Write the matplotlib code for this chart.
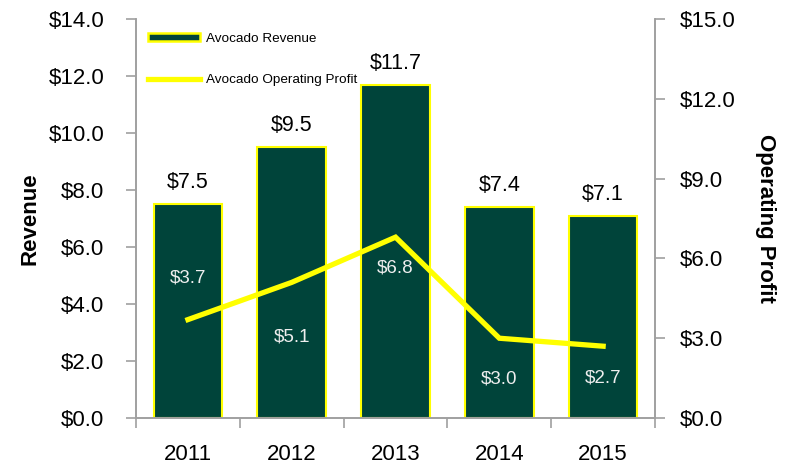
import matplotlib
matplotlib.use('Agg')
import matplotlib.pyplot as plt
from matplotlib.patches import Patch
from matplotlib.lines import Line2D

plt.rcParams['font.family'] = ['Liberation Sans', 'DejaVu Sans']

# ---- donnees ----
annees = ['2011', '2012', '2013', '2014', '2015']
revenue = [7.5, 9.5, 11.7, 7.4, 7.1]
profit = [3.7, 5.1, 6.8, 3.0, 2.7]
# decalage vertical (points) des etiquettes de profit
profit_offsets = [30, -39, -22, -29, -23]

VERT = '#00443a'
JAUNE = '#ffff00'
GRIS = '#a0a0a0'

fig = plt.figure(figsize=(7.89, 4.66), dpi=100)
ax = fig.add_axes([0.1724, 0.103, 0.6578, 0.856])
ax2 = ax.twinx()

x = list(range(len(annees)))

# barres revenue
bars = ax.bar(x, revenue, width=0.66, color=VERT, edgecolor=JAUNE, linewidth=1.5, zorder=2)
for xi, v in zip(x, revenue):
    ax.annotate(f"${v:.1f}", (xi, v), xytext=(0, 8), textcoords='offset points',
                ha='center', va='bottom', fontsize=15.5, color='black')

ax.set_xlim(-0.5, len(annees) - 0.5)
ax.set_ylim(0, 14)
ax.set_yticks([0, 2, 4, 6, 8, 10, 12, 14])
ax.set_yticklabels([f"${t:.1f}" for t in [0, 2, 4, 6, 8, 10, 12, 14]])

# ticks x aux separations, labels au centre
ax.set_xticks([i - 0.5 for i in range(len(annees) + 1)])
ax.set_xticklabels([])
ax.set_xticks(x, minor=True)
ax.set_xticklabels(annees, minor=True)
ax.tick_params(axis='x', which='major', direction='out', length=7, color=GRIS, width=1.2)
ax.tick_params(axis='x', which='minor', length=0, pad=19, labelsize=16)
ax.tick_params(axis='y', direction='out', length=7, color=GRIS, width=1.2, pad=16, labelsize=16)

# ligne profit
ax2.plot(x, profit, color=JAUNE, linewidth=3.8, solid_joinstyle='miter', zorder=3)
for xi, v, off in zip(x, profit, profit_offsets):
    ax2.annotate(f"${v:.1f}", (xi, v), xytext=(0, off), textcoords='offset points',
                 ha='center', va='center', fontsize=13.5, color='#eeeeee')
ax2.set_ylim(0, 15)
ax2.set_yticks([0, 3, 6, 9, 12, 15])
ax2.set_yticklabels([f"${t:.1f}" for t in [0, 3, 6, 9, 12, 15]])
ax2.tick_params(axis='y', direction='out', length=7, color=GRIS, width=1.2, pad=11, labelsize=16)

for a in (ax, ax2):
    a.spines['top'].set_visible(False)
    for s in ('left', 'right', 'bottom'):
        a.spines[s].set_color(GRIS)
        a.spines[s].set_linewidth(1.2)

ax.set_ylabel("Revenue", fontsize=16, fontweight='bold', va='center')
ax.yaxis.set_label_coords(-0.204, 0.5)
ax2.set_ylabel("Operating Profit", fontsize=16, fontweight='bold', rotation=270, va='center')
ax2.yaxis.set_label_coords(1.212, 0.5)

handles = [Patch(facecolor=VERT, edgecolor=JAUNE, linewidth=1.8),
           Line2D([0], [0], color=JAUNE, linewidth=3.8)]
ax2.legend(handles, ["Avocado Revenue", "Avocado Operating Profit"],
           loc='upper left', bbox_to_anchor=(141 / 789, 1 - 26 / 466),
           bbox_transform=fig.transFigure, frameon=False, fontsize=9.7,
           borderpad=0, handlelength=3.9, handleheight=0.6, handletextpad=0.45,
           labelspacing=2.2)

plt.savefig('out.png', dpi=100)
